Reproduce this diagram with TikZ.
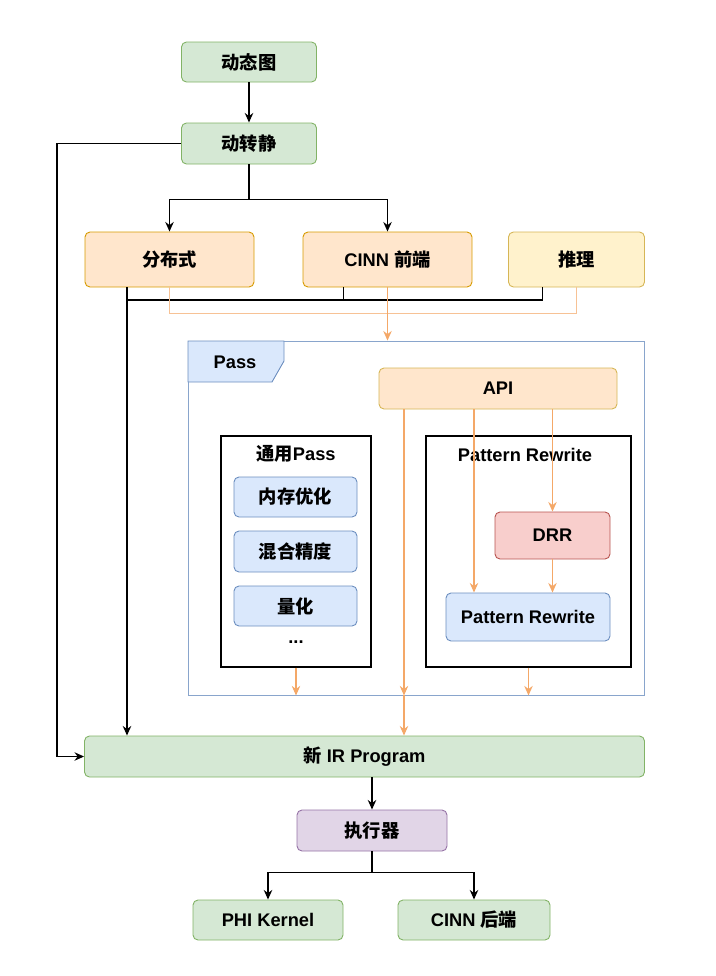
\documentclass[tikz,border=0pt]{standalone}
\usepackage{fontspec}
\setmainfont{Liberation Sans}
\newfontfamily\cjk{Noto Sans CJK SC}
\usetikzlibrary{
    arrows.meta,  % For arrow tips
    calc          % For coordinate calculations
}
\newcommand{\zh}[1]{{\cjk #1}}
\def\px{*0.025cm} % one pixel of the reference

% drawio-like colours
\definecolor{greenF}{HTML}{D5E8D4}\definecolor{greenD}{HTML}{82B366}
\definecolor{orangeF}{HTML}{FFE6CC}\definecolor{orangeD}{HTML}{D79B00}
\definecolor{yellowF}{HTML}{FFF2CC}\definecolor{yellowD}{HTML}{D6B656}
\definecolor{blueF}{HTML}{DAE8FC}\definecolor{blueD}{HTML}{6C8EBF}
\definecolor{redF}{HTML}{F8CECC}\definecolor{redD}{HTML}{B85450}
\definecolor{purpleF}{HTML}{E1D5E7}\definecolor{purpleD}{HTML}{9673A6}
\definecolor{flow}{HTML}{F4A868}

\begin{document}
\begin{tikzpicture}[
    x=0.025cm, y=-0.025cm,
    font=\fontsize{13}{15}\selectfont\bfseries,
    >={Stealth[length=6.8pt, width=6pt]}, % Default arrow tip
    box/.style={draw=#1D, fill=#1F, rounded corners=5\px, line width=0.9\px, inner sep=0pt},
    frame/.style={draw=black, line width=1.1\px, inner sep=0pt},
    line/.style={draw=black, line width=1.4\px},
    conn/.style={line, ->},
    oline/.style={draw=flow!70, line width=1.1\px},
    oarrow/.style={draw=flow, line width=1.1\px, ->}
]

    \useasboundingbox (0,0) rectangle (716,976);

    % --- Top chain ---
    \node[box=green, minimum width=135\px, minimum height=40\px] (dyn) at (249,62) {\zh{动态图}};
    \node[box=green, minimum width=135\px, minimum height=41\px] (d2s) at (249,143.5) {\zh{动转静}};
    \node[box=orange, minimum width=169\px, minimum height=55\px] (dist) at (169.5,259.5) {\zh{分布式}};
    \node[box=orange, minimum width=169\px, minimum height=55\px] (cinnf) at (387.5,259.5) {CINN \zh{前端}};
    \node[box=yellow, minimum width=136\px, minimum height=55\px] (infer) at (576.5,259.5) {\zh{推理}};

    % --- Pass container ---
    \node[draw=blueD!80, line width=0.9\px, minimum width=456\px, minimum height=354\px] (pass) at (416,518) {};
    \filldraw[fill=blueF, draw=blueD, line width=0.9\px] (188,341) -- (284,341) -- (284,361) -- (272,382) -- (188,382) -- cycle;
    \node (passlbl) at (235,362) {Pass};
    \node[box=orange, draw=yellowD, minimum width=238\px, minimum height=41\px] (api) at (498,388.5) {API};

    % generic passes
    \node[frame, minimum width=150\px, minimum height=231\px] (gen) at (296,551.5) {};
    \node (genlbl) at (296,454) {\zh{通用}Pass};
    \node[box=blue, minimum width=123\px, minimum height=40\px] (mem) at (295.5,497) {\zh{内存优化}};
    \node[box=blue, minimum width=123\px, minimum height=41\px] (mix) at (295.5,551.5) {\zh{混合精度}};
    \node[box=blue, minimum width=123\px, minimum height=40\px] (quant) at (295.5,606) {\zh{量化}};
    \node (dots) at (296,642) {...};

    % pattern rewrite
    \node[frame, minimum width=205\px, minimum height=231\px] (pr) at (528.5,551.5) {};
    \node (prlbl) at (525,455) {Pattern Rewrite};
    \node[box=red, minimum width=115\px, minimum height=47\px] (drr) at (552.5,535.5) {DRR};
    \node[box=blue, minimum width=164\px, minimum height=48\px] (prin) at (528,617) {Pattern Rewrite};

    % --- Bottom chain ---
    \node[box=green, minimum width=560\px, minimum height=41\px] (newir) at (364.5,756.5) {\zh{新} IR Program};
    \node[box=purple, minimum width=150\px, minimum height=41\px] (exec) at (372,830.5) {\zh{执行器}};
    \node[box=green, minimum width=150\px, minimum height=40\px] (phi) at (268,920) {PHI Kernel};
    \node[box=green, minimum width=152\px, minimum height=40\px] (cinnb) at (474,920) {CINN \zh{后端}};

    % --- Black connectors ---
    \draw[conn] (dyn) -- (d2s);
    \draw[conn] (d2s.west) -- ++(-124,0) |- (newir.west);
    \draw[conn] (d2s.south) -- ++(0,35) -| (dist.north);
    \draw[conn] (d2s.south) -- ++(0,35) -| (cinnf.north);
    \coordinate (bus) at (127,300);
    \draw[line] ([xshift=-34\px]infer.south) |- (bus);
    \draw[line] ([xshift=-44\px]cinnf.south) -- ([xshift=-44\px]cinnf.south |- bus);
    \draw[conn] ([xshift=-42.5\px]dist.south) -- ([xshift=-42.5\px]dist.south |- newir.north);
    \draw[conn] (exec.north |- newir.south) -- (exec.north);
    \draw[conn] (exec.south) -- ++(0,21) -| (phi.north);
    \draw[conn] (exec.south) -- ++(0,21) -| (cinnb.north);

    % --- Orange flow ---
    \draw[oline] (dist.south) -- ++(0,26) -| (infer.south);
    \draw[oarrow] (cinnf.south) -- (cinnf.south |- pass.north);
    \draw[oarrow] ([xshift=-94\px]api.south) -- ([xshift=-94\px]api.south |- pass.south);
    \draw[oarrow] ([xshift=-94\px]api.south |- pass.south) -- ([xshift=-94\px]api.south |- newir.north);
    \draw[oarrow] ([xshift=-24\px]api.south) -- ([xshift=-24\px]api.south |- prin.north);
    \draw[oarrow] (api.south -| drr.north) -- (drr.north);
    \draw[oarrow] (drr.south) -- (drr.south |- prin.north);
    \draw[oarrow] (gen.south) -- (gen.south |- pass.south);
    \draw[oarrow] (pr.south) -- (pr.south |- pass.south);

\end{tikzpicture}
\end{document}
